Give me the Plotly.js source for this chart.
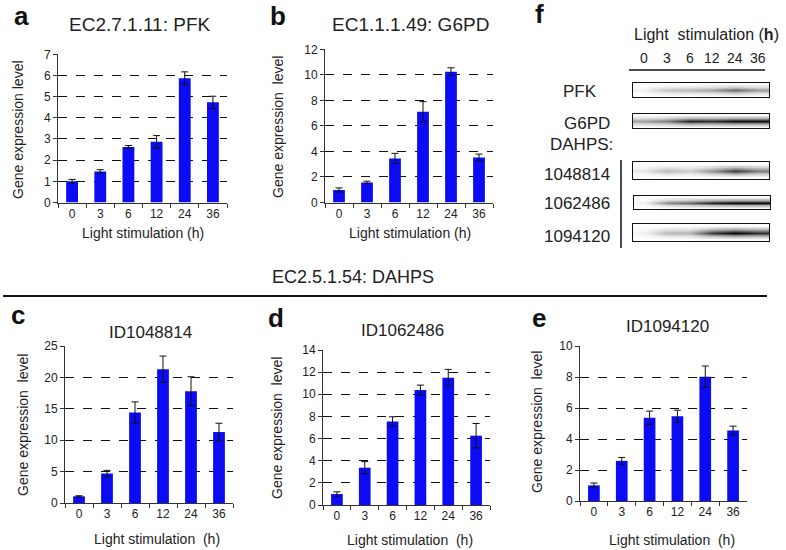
<!DOCTYPE html>
<html>
<head>
<meta charset="utf-8">
<script src="https://cdn.plot.ly/plotly-3.0.1.min.js"></script>
<style>
  body { margin: 0; background: #fff; }
  #chart { width: 786px; height: 550px; }
</style>
</head>
<body>
<div id="chart"></div>
<script>
// categories (hours of light stimulation)
var hours = ['0', '3', '6', '12', '24', '36'];

// qPCR bars + error bars
var pfk      = [1.0, 1.47, 2.62, 2.87, 5.87, 4.73];
var pfkErr   = [0.09, 0.08, 0.07, 0.29, 0.3, 0.29];
var g6pd     = [0.98, 1.57, 3.45, 7.1, 10.25, 3.53];
var g6pdErr  = [0.16, 0.1, 0.4, 0.8, 0.3, 0.26];
var id1048814    = [1.06, 4.7, 14.4, 21.3, 17.8, 11.3];
var id1048814Err = [0.1, 0.5, 1.7, 2.1, 2.3, 1.4];
var id1062486    = [0.99, 3.37, 7.55, 10.38, 11.5, 6.26];
var id1062486Err = [0.2, 0.55, 0.42, 0.45, 0.75, 1.1];
var id1094120    = [1.01, 2.59, 5.37, 5.47, 8.02, 4.55];
var id1094120Err = [0.15, 0.22, 0.43, 0.39, 0.69, 0.28];

// western blot band darkness per lane (0 = blank, 1 = saturated)
var blotNames = ['PFK', 'G6PD', '1048814', '1062486', '1094120'];
var bandPFK     = [0.06, 0.25, 0.3, 0.4, 0.62, 0.42];
var bandG6PD    = [0.4, 0.55, 0.9, 0.85, 0.97, 0.97];
var band1048814 = [0.1, 0.3, 0.2, 0.45, 0.8, 0.55];
var band1062486 = [0.05, 0.5, 0.65, 0.9, 1.0, 1.0];
var band1094120 = [0.05, 0.3, 0.32, 0.8, 1.0, 0.85];
var bandProfile = [0.02, 0.35, 1, 0.35, 0.02];

var W = 786, H = 550;
function px(x) { return x / W; }
function py(y) { return 1 - y / H; }

var font = 'Liberation Sans, Arial, sans-serif';
var barBlue = '#0b0bf5';

// pixel boxes: [left, right, top, bottom]
var panels = [
  { y: pfk, err: pfkErr, box: [58, 227, 54.3, 202.5], max: 7, dtick: 1 },
  { y: g6pd, err: g6pdErr, box: [325, 493, 49.3, 202.5], max: 12, dtick: 2 },
  { y: id1048814, err: id1048814Err, box: [65, 233, 346, 503], max: 25, dtick: 5 },
  { y: id1062486, err: id1062486Err, box: [323, 490, 350, 505], max: 14, dtick: 2 },
  { y: id1094120, err: id1094120Err, box: [580, 747, 346, 501], max: 10, dtick: 2 }
];

var data = [];
var layout = {
  width: W, height: H,
  margin: { l: 0, r: 0, t: 0, b: 0 },
  paper_bgcolor: '#fff', plot_bgcolor: '#fff',
  showlegend: false,
  font: { family: font, color: '#222' },
  bargap: 0.58,
  annotations: [],
  shapes: []
};

panels.forEach(function (p, i) {
  var n = i + 1;
  var xa = n === 1 ? 'x' : 'x' + n;
  var ya = n === 1 ? 'y' : 'y' + n;
  data.push({
    type: 'bar', x: hours, y: p.y, xaxis: xa, yaxis: ya,
    marker: { color: barBlue },
    error_y: { type: 'data', array: p.err, color: '#111', thickness: 1, width: 3.5 }
  });
  layout['xaxis' + (n === 1 ? '' : n)] = {
    domain: [px(p.box[0]), px(p.box[1])], anchor: ya,
    type: 'category', showline: true, linecolor: '#333', linewidth: 1,
    ticks: 'outside', tickson: 'boundaries', ticklen: 4, tickcolor: '#333',
    tickfont: { size: 12, color: '#222' }, showgrid: false, fixedrange: true
  };
  layout['yaxis' + (n === 1 ? '' : n)] = {
    domain: [py(p.box[3]), py(p.box[2])], anchor: xa,
    range: [0, p.max], dtick: p.dtick,
    showline: true, linecolor: '#333', linewidth: 1,
    ticks: 'outside', ticklen: 4, tickcolor: '#333',
    tickfont: { size: 12, color: '#222' },
    showgrid: true, gridcolor: '#111', griddash: 'dash', gridwidth: 1,
    zeroline: false, fixedrange: true
  };
});

// blots drawn as smoothed grey heatmaps
var blotBands = [bandPFK, bandG6PD, band1048814, band1062486, band1094120];
var blotBoxes = [[633, 769, 83, 97], [633, 769, 114, 128], [633, 769, 162, 179],
                 [634, 770, 196, 209], [633, 769, 224, 241]];
blotBands.forEach(function (band, j) {
  var n = 6 + j;
  var z = bandProfile.map(function (f) {
    return band.map(function (v) { return v * f; });
  });
  data.push({
    type: 'heatmap', z: z, x: [0, 1, 2, 3, 4, 5], y: [0, 1, 2, 3, 4],
    xaxis: 'x' + n, yaxis: 'y' + n,
    zmin: 0, zmax: 1, zsmooth: 'best', showscale: false,
    colorscale: [[0, '#ffffff'], [0.5, '#8a8a8a'], [1, '#050505']],
    hoverinfo: 'skip', name: blotNames[j]
  });
  var b = blotBoxes[j];
  layout['xaxis' + n] = {
    domain: [px(b[0]), px(b[1])], anchor: 'y' + n, range: [-0.5, 5.5],
    showline: true, mirror: true, linecolor: '#111', linewidth: 1,
    showticklabels: false, ticks: '', showgrid: false, zeroline: false, fixedrange: true
  };
  layout['yaxis' + n] = {
    domain: [py(b[3]), py(b[2])], anchor: 'x' + n, range: [-0.5, 4.5],
    showline: true, mirror: true, linecolor: '#111', linewidth: 1,
    showticklabels: false, ticks: '', showgrid: false, zeroline: false, fixedrange: true
  };
});

function note(text, x, y, size, extra) {
  var a = {
    text: text, x: px(x), y: py(y), xref: 'paper', yref: 'paper',
    showarrow: false, xanchor: 'center', yanchor: 'middle',
    font: { size: size, family: font, color: '#222' }
  };
  for (var k in extra) a[k] = extra[k];
  layout.annotations.push(a);
}

// panel letters
[['a', 21, 16], ['b', 278, 16], ['c', 18, 315], ['d', 276, 318], ['e', 539, 318], ['f', 539, 14]]
  .forEach(function (l) { note('<b>' + l[0] + '</b>', l[1], l[2], 26, { font: { size: 26, family: font, color: '#111' } }); });

// panel titles
note('EC2.7.1.11: PFK', 139, 25, 19);
note('EC1.1.1.49: G6PD', 410, 25, 19);
note('EC2.5.1.54: DAHPS', 353, 277, 18);
note('ID1048814', 150, 332, 17);
note('ID1062486', 403, 330, 17);
note('ID1094120', 667, 326, 17);

// axis titles
var yTitles = [[18, 130, 'Gene expression level'], [278, 127, 'Gene expression\u00a0 level'],
               [23, 425, 'Gene expression\u00a0 level'], [277, 428, 'Gene expression\u00a0 level'],
               [537, 422, 'Gene expression\u00a0 level']];
yTitles.forEach(function (t) { note(t[2], t[0], t[1], 14, { textangle: -90 }); });
var xTitles = [[143, 233, 'Light stimulation (h)'], [410, 233, 'Light stimulation (h)'],
               [157, 539, 'Light stimulation\u00a0 (h)'], [410, 540, 'Light stimulation\u00a0 (h)'],
               [672, 540, 'Light stimulation\u00a0 (h)']];
xTitles.forEach(function (t) { note(t[2], t[0], t[1], 14); });

// blot labels
note('Light\u00a0 stimulation\u00a0(<b>h</b>)', 706, 35, 16);
hours.forEach(function (h, k) {
  layout.annotations.push({
    text: h, x: k, y: py(58), xref: 'x6', yref: 'paper', showarrow: false,
    xanchor: 'center', yanchor: 'middle', font: { size: 14, family: font, color: '#222' }
  });
});
note('PFK', 580, 92, 17);
note('G6PD', 587, 123, 17);
note('DAHPS:', 581, 144, 17);
note('1048814', 577, 175, 17);
note('1062486', 577, 204, 17);
note('1094120', 577, 236, 17);

layout.shapes.push(
  { type: 'line', xref: 'paper', yref: 'paper', x0: px(3), x1: px(767), y0: py(296), y1: py(296), line: { color: '#111', width: 2 } },
  { type: 'line', xref: 'paper', yref: 'paper', x0: px(629), x1: px(765), y0: py(70), y1: py(70), line: { color: '#111', width: 1.5 } },
  { type: 'line', xref: 'paper', yref: 'paper', x0: px(621), x1: px(621), y0: py(160), y1: py(248), line: { color: '#111', width: 1.5 } }
);

Plotly.newPlot('chart', data, layout, { displayModeBar: false, staticPlot: true });
</script>
</body>
</html>
